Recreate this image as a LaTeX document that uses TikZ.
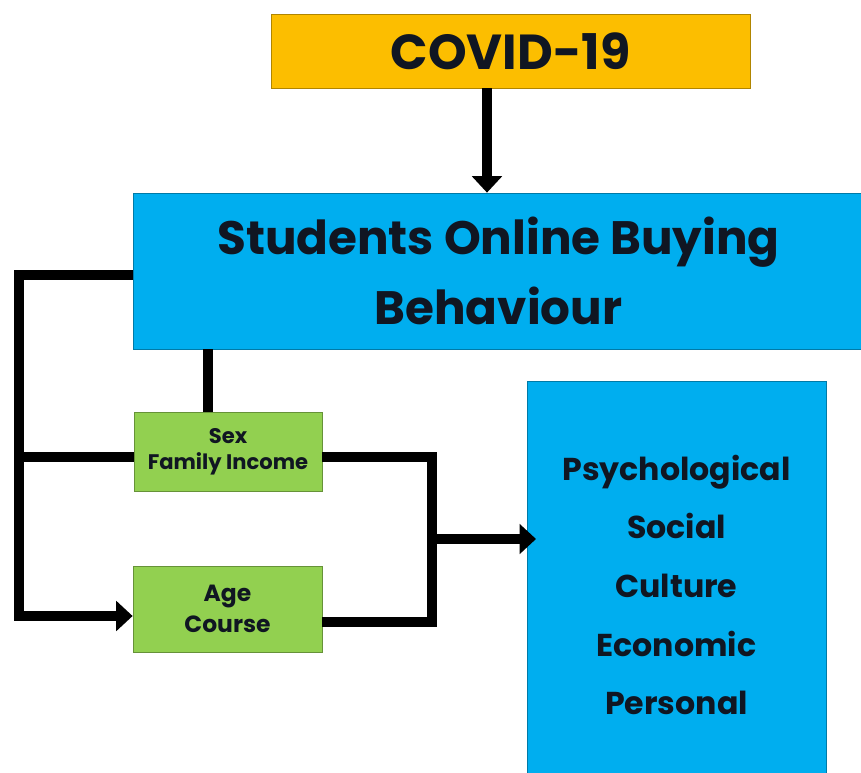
\documentclass[tikz,border=0pt]{standalone}
\usepackage{fontspec}
\setmainfont{Poppins}
\usetikzlibrary{arrows.meta,positioning,calc}
\definecolor{covidorange}{RGB}{252,190,0}
\definecolor{behavblue}{RGB}{0,174,239}
\definecolor{factgreen}{RGB}{146,208,80}
\definecolor{inkdark}{RGB}{16,22,34}

\tikzset{
  box/.style={draw, rectangle, inner sep=0pt, line width=0.6pt, align=center, font=\bfseries, text=inkdark},
  link/.style={line width=8.5pt, black},
  linkarrow/.style={link, -{Triangle[length=14pt,width=25pt]}},
}

\begin{document}
\begin{tikzpicture}[x=0.03cm, y=-0.03cm]
  % Page area
  \fill[white] (0,0) rectangle (861,772);
  \useasboundingbox (0,0) rectangle (861,772);

  % Boxes
  \node[box, fill=covidorange, draw=covidorange!70!black, minimum width=14.37cm, minimum height=2.22cm,
        font=\bfseries\fontsize{42}{50}\selectfont] (covid) at (510.5,51) {COVID-19};
  \node[box, fill=behavblue, draw=behavblue!70!black, minimum width=21.9cm, minimum height=4.68cm,
        font=\bfseries\fontsize{40}{60}\selectfont] (behaviour) at (498.5,271) {Students Online Buying\\Behaviour};
  \node[box, fill=factgreen, draw=factgreen!70!black, minimum width=5.64cm, minimum height=2.37cm,
        font=\bfseries\fontsize{18}{22}\selectfont] (sexincome) at (228,451.5) {Sex\\Family Income};
  \node[box, fill=factgreen, draw=factgreen!70!black, minimum width=5.67cm, minimum height=2.58cm,
        font=\bfseries\fontsize{20}{26}\selectfont] (agecourse) at (227.5,609) {Age\\Course};
  \node[box, fill=behavblue, draw=behavblue!70!black, minimum width=8.97cm, minimum height=12.24cm,
        font=\bfseries\fontsize{27}{50}\selectfont] (factors) at (676.5,585) {Psychological\\Social\\Culture\\Economic\\Personal};

  % Routing points
  \coordinate (downx) at (487,0);
  \coordinate (leftx) at (19,0);
  \coordinate (stemx) at (208,0);
  \coordinate (rightx) at (432,0);
  \coordinate (toprow) at (0,275);
  \coordinate (sexrow) at (0,457);
  \coordinate (agerow) at (0,616);
  \coordinate (outrow) at (0,622);
  \coordinate (join) at (432,539);

  % Connectors
  \draw[linkarrow] (covid.south -| downx) -- (behaviour.north -| downx);
  \draw[linkarrow] (behaviour.west |- toprow) -- (leftx |- toprow) |- (agecourse.west |- agerow);
  \draw[link] (leftx |- sexrow) -- (sexincome.west |- sexrow);
  \draw[link] (behaviour.south -| stemx) -- (sexincome.north -| stemx);
  \draw[link] (sexincome.east |- sexrow) -| (rightx |- outrow) -- (agecourse.east |- outrow);
  \draw[linkarrow] (join) -- ([xshift=8pt]factors.west |- join);
\end{tikzpicture}
\end{document}
